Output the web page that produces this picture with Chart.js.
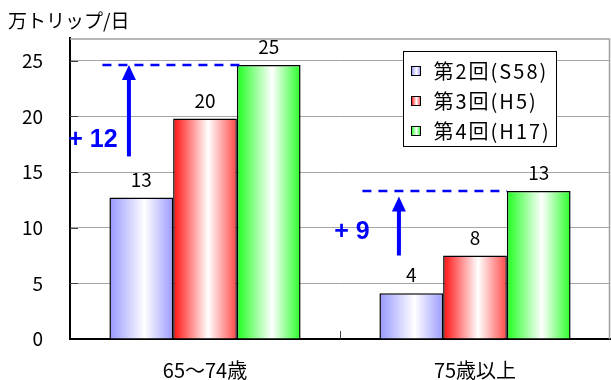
<!DOCTYPE html>
<html lang="ja">
<head>
<meta charset="utf-8">
<title>年齢階層別 高齢者の1日あたりトリップ数</title>
<script src="https://cdn.jsdelivr.net/npm/chart.js@4/dist/chart.umd.min.js"></script>
<style>
  html, body { margin: 0; padding: 0; background: #fff; }
  #wrap { width: 611px; height: 380px; }
</style>
</head>
<body>
<div id="wrap"><canvas id="c" width="611" height="380"></canvas></div>
<script>
// 年齢階層
const categories = ['65〜74歳', '75歳以上'];
// 調査回
const surveyLabels = ['第2回(S58)', '第3回(H5)', '第4回(H17)'];
// 万トリップ/日
const trips2nd = [12.7, 4.1];
const trips3rd = [19.8, 7.5];
const trips4th = [24.6, 13.3];
// 増加を示す矢印の始点・終点と「+ n」の高さ（万トリップ/日）
const arrowFrom = [16.4, 7.5];
const arrowTo = [24.6, 12.8];
const gainLabelAt = [17.9, 9.6];
// 目盛
const yTicks = [0, 5, 10, 15, 20, 25];
const yMax = 27;

const JP = '"Noto Sans CJK JP", "Noto Sans", sans-serif';
const CAT_PCT = 0.708;

// 縁が濃く中央が白いグラデーション
const fills = [
  { edgeL: '#9797ff', edgeR: '#9b9bff' },
  { edgeL: '#ff1010', edgeR: '#ff4848' },
  { edgeL: '#1eff1e', edgeR: '#28ff28' }
];
function makeGrad(c, left, w, f) {
  const g = c.createLinearGradient(left, 0, left + w, 0);
  g.addColorStop(0, f.edgeL);
  g.addColorStop(0.55, '#ffffff');
  g.addColorStop(1, f.edgeR);
  return g;
}
function barFill(ctx) {
  const f = fills[ctx.datasetIndex];
  const chart = ctx.chart;
  const xs = chart.scales && chart.scales.x;
  if (!xs || ctx.dataIndex === undefined) return f.edgeL;
  const center = xs.getPixelForValue(ctx.dataIndex);
  const group = (xs.width / categories.length) * CAT_PCT;
  const w = group / surveyLabels.length;
  const left = center - group / 2 + ctx.datasetIndex * w;
  if (!isFinite(left) || !isFinite(w) || w <= 0) return f.edgeL;
  return makeGrad(chart.ctx, left, w, f);
}

const decor = {
  id: 'decor',
  beforeDatasetsDraw(chart) {
    const { ctx, chartArea: a } = chart;
    ctx.save();
    // 上・右の枠線
    ctx.strokeStyle = '#a0a0a0';
    ctx.lineWidth = 1.5;
    ctx.beginPath();
    ctx.moveTo(a.left, a.top + 0.5);
    ctx.lineTo(a.right - 0.5, a.top + 0.5);
    ctx.lineTo(a.right - 0.5, a.bottom);
    ctx.stroke();
    // 内向きの目盛線
    const ys = chart.scales.y;
    ctx.strokeStyle = '#404040';
    ctx.lineWidth = 1;
    yTicks.forEach(v => {
      if (v === 0) return;
      const y = Math.round(ys.getPixelForValue(v)) + 0.5;
      ctx.beginPath();
      ctx.moveTo(a.left, y);
      ctx.lineTo(a.left + 8, y);
      ctx.stroke();
    });
    const xs = chart.scales.x;
    const mid = Math.round((xs.getPixelForValue(0) + xs.getPixelForValue(1)) / 2) + 0.5;
    ctx.beginPath();
    ctx.moveTo(mid, a.bottom);
    ctx.lineTo(mid, a.bottom - 8);
    ctx.stroke();
    ctx.restore();
  },
  afterDatasetsDraw(chart) {
    const { ctx, chartArea: a } = chart;
    const ys = chart.scales.y;
    ctx.save();

    // 値ラベル
    ctx.fillStyle = '#000';
    ctx.font = '19px ' + JP;
    ctx.textAlign = 'center';
    ctx.textBaseline = 'alphabetic';
    chart.data.datasets.forEach((ds, di) => {
      chart.getDatasetMeta(di).data.forEach((bar, i) => {
        ctx.fillText(String(Math.round(ds.data[i])), bar.x, bar.y - 11);
      });
    });

    // 増加分の破線・矢印・注記
    const dashDx = [[-7, 8], [-17, 0]];
    const textDx = [-36, -47];
    ctx.strokeStyle = '#0000ff';
    ctx.fillStyle = '#0000ff';
    categories.forEach((_, i) => {
      const b0 = chart.getDatasetMeta(0).data[i];
      const b2 = chart.getDatasetMeta(2).data[i];
      const blueLeft = b0.x - b0.width / 2;
      const greenLeft = b2.x - b2.width / 2;
      const yLine = ys.getPixelForValue(trips4th[i]);
      ctx.setLineDash([9, 7]);
      ctx.lineWidth = 2.5;
      ctx.beginPath();
      ctx.moveTo(blueLeft + dashDx[i][0], yLine);
      ctx.lineTo(greenLeft + dashDx[i][1], yLine);
      ctx.stroke();
      ctx.setLineDash([]);

      const ax = blueLeft + 19.5;
      const yTip = ys.getPixelForValue(arrowTo[i]);
      const yBase = ys.getPixelForValue(arrowFrom[i]);
      ctx.lineWidth = 4;
      ctx.beginPath();
      ctx.moveTo(ax, yBase);
      ctx.lineTo(ax, yTip + 12);
      ctx.stroke();
      ctx.beginPath();
      ctx.moveTo(ax, yTip);
      ctx.lineTo(ax - 7, yTip + 15);
      ctx.lineTo(ax + 7, yTip + 15);
      ctx.closePath();
      ctx.fill();

      ctx.font = 'bold 25px "Liberation Sans", Arial, sans-serif';
      ctx.textAlign = 'center';
      ctx.textBaseline = 'middle';
      const gain = Math.round(trips4th[i] - trips2nd[i]);
      ctx.fillText('+ ' + gain, ax + textDx[i], ys.getPixelForValue(gainLabelAt[i]));
    });

    // 凡例
    const bw = 153, bh = 95;
    const bx = Math.round(a.right - 54 - bw) + 0.5;
    const by = Math.round(a.top + 13) + 0.5;
    ctx.fillStyle = '#fff';
    ctx.fillRect(bx, by, bw, bh);
    ctx.strokeStyle = '#000';
    ctx.lineWidth = 1;
    ctx.strokeRect(bx, by, bw, bh);
    ctx.font = '20px ' + JP;
    ctx.textAlign = 'left';
    ctx.textBaseline = 'middle';
    if ('letterSpacing' in ctx) ctx.letterSpacing = '2px';
    surveyLabels.forEach((lab, k) => {
      const cy = by + 18.5 + k * 30.3;
      const sx = bx + 8, sy = Math.round(cy - 4.5);
      ctx.fillStyle = makeGrad(ctx, sx, 9, fills[k]);
      ctx.fillRect(sx, sy, 9, 9);
      ctx.strokeStyle = '#000';
      ctx.strokeRect(sx, sy + 0.5, 9, 9);
      ctx.fillStyle = '#000';
      ctx.fillText(lab, bx + 30, cy + 1);
    });
    if ('letterSpacing' in ctx) ctx.letterSpacing = '0px';

    ctx.restore();
  },
  afterDraw(chart) {
    const ctx = chart.ctx;
    ctx.save();
    ctx.fillStyle = '#000';
    ctx.font = '19px ' + JP;
    ctx.textAlign = 'left';
    ctx.textBaseline = 'middle';
    ctx.fillText('万トリップ/日', 8, 21);
    ctx.restore();
  }
};

const datasets = [trips2nd, trips3rd, trips4th].map((vals, k) => ({
  label: surveyLabels[k],
  data: vals,
  backgroundColor: barFill,
  borderColor: '#000',
  borderWidth: 1.5,
  categoryPercentage: CAT_PCT,
  barPercentage: 1
}));

new Chart(document.getElementById('c'), {
  type: 'bar',
  data: { labels: categories, datasets },
  options: {
    responsive: false,
    devicePixelRatio: 1,
    animation: false,
    layout: { padding: { top: 35, right: 1, left: 0, bottom: 0 } },
    plugins: { legend: { display: false }, tooltip: { enabled: false } },
    scales: {
      x: {
        grid: { display: false, drawTicks: false },
        border: { color: '#000', width: 2 },
        ticks: { color: '#000', font: { family: JP, size: 20 }, padding: 19 },
        afterFit(s) { s.height = 41; }
      },
      y: {
        min: 0,
        max: yMax,
        afterBuildTicks(s) { s.ticks = yTicks.map(v => ({ value: v })); },
        grid: { color: '#a6a6a6', lineWidth: 1, drawTicks: false },
        border: { color: '#000', width: 2 },
        ticks: { color: '#000', font: { family: JP, size: 19 }, padding: 27 },
        afterFit(s) { s.width = 70; }
      }
    }
  },
  plugins: [decor]
});
</script>
</body>
</html>
